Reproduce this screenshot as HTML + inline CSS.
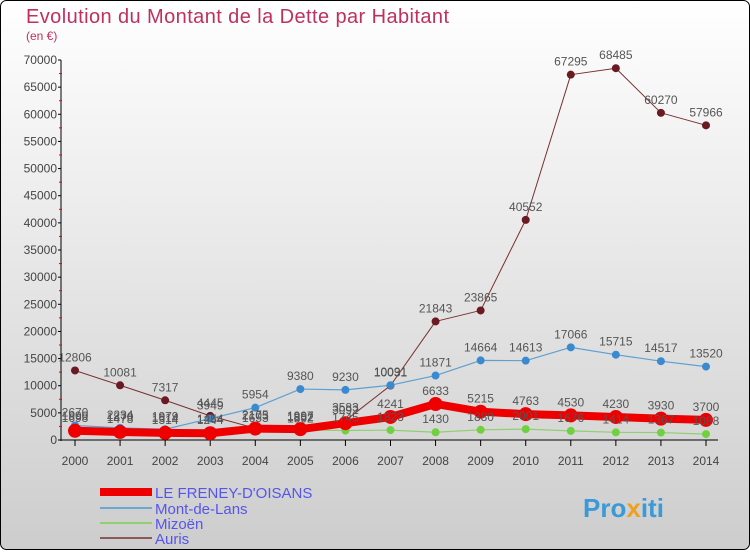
<!DOCTYPE html>
<html><head><meta charset="utf-8"><style>
html,body{margin:0;padding:0}
body{width:750px;height:550px;overflow:hidden;font-family:"Liberation Sans",sans-serif}
</style></head><body>
<svg id="c" width="750" height="550" xmlns="http://www.w3.org/2000/svg">
<defs><linearGradient id="bg" x1="0" y1="0" x2="0" y2="1"><stop offset="0" stop-color="#ffffff"/><stop offset="1" stop-color="#cdcdcd"/></linearGradient></defs>
<rect x="0.5" y="0.5" width="749" height="549" rx="6" fill="url(#bg)" stroke="#000"/>
<text x="26" y="23" font-size="20" fill="#c0305e" textLength="423">Evolution du Montant de la Dette par Habitant</text>
<text x="26" y="40" font-size="12" fill="#c0305e">(en €)</text>
<g id="axes"></g><g id="series"></g><g id="labels"></g>
<g>
<rect x="100" y="488" width="52" height="8" fill="#e00"/>
<text x="155" y="498" font-size="15" fill="#5555ee">LE FRENEY-D'OISANS</text>
<rect x="100" y="507" width="52" height="2" fill="#6aa8d0"/>
<text x="155" y="514" font-size="15" fill="#5555ee">Mont-de-Lans</text>
<rect x="100" y="522" width="52" height="2" fill="#8fd070"/>
<text x="155" y="529" font-size="15" fill="#5555ee">Mizoën</text>
<rect x="100" y="537" width="52" height="2" fill="#8a5a5a"/>
<text x="155" y="544" font-size="15" fill="#5555ee">Auris</text>
</g>
<text x="583" y="517" font-size="26" font-weight="bold" fill="#3a9ad8">Pro<tspan fill="#f0a020">x</tspan>iti</text>
</svg>
<script>
const years=[2000,2001,2002,2003,2004,2005,2006,2007,2008,2009,2010,2011,2012,2013,2014];
const freney=[1698,1478,1314,1244,2103,1997,3092,4241,6633,5215,4763,4530,4230,3930,3700];
const mont=[2670,2234,1979,3949,5954,9380,9230,10091,11871,14664,14613,17066,15715,14517,13520];
const mizoen=[1990,1870,1614,1454,1653,1852,1745,1823,1430,1880,2001,1676,1414,1367,1088];
const auris=[12806,10081,7317,4445,2175,1592,3583,10031,21843,23865,40552,67295,68485,60270,57966];
const yTicks=[0,5000,10000,15000,20000,25000,30000,35000,40000,45000,50000,55000,60000,65000,70000];
const NS="http://www.w3.org/2000/svg";
const X=i=>75+i*(631/14);
const Y=v=>440-v*380/70000;
function mk(t,a,p){const e=document.createElementNS(NS,t);for(const k in a)e.setAttribute(k,a[k]);p.appendChild(e);return e;}
const ax=document.getElementById('axes');
const sg=document.getElementById('series');
const lg=document.getElementById('labels');
let l=mk('line',{x1:61,y1:60,x2:61,y2:441,stroke:'#000'},ax);


l=mk('line',{x1:61,y1:440,x2:718,y2:440,stroke:'#000'},ax);


yTicks.forEach((v,i)=>{
  mk('line',{x1:58,y1:Y(v),x2:61,y2:Y(v),stroke:'#000'},ax);
  if(i<yTicks.length-1)mk('line',{x1:59,y1:Y(v+2500),x2:62,y2:Y(v+2500),stroke:'#e00'},ax);
  const t=mk('text',{x:57,y:Y(v)+4,'font-size':12,'text-anchor':'end',fill:'#444'},ax);
  t.textContent=v;
  
  
});
years.forEach((y,i)=>{
  mk('line',{x1:X(i),y1:440,x2:X(i),y2:446,stroke:'#000'},ax);
  const t=mk('text',{x:X(i),y:465,'font-size':12,'text-anchor':'middle',fill:'#444'},ax);
  t.textContent=y;
  
  
});
function series(data,name,color,w,r,dot){
  const pts=data.map((v,i)=>X(i)+','+Y(v)).join(' ');
  const p=mk('polyline',{points:pts,fill:'none',stroke:color,'stroke-width':w,'stroke-linejoin':'round'},sg);
  
  
  data.forEach((v,i)=>{
    const c=mk('circle',{cx:X(i),cy:Y(v),r:r,fill:dot},sg);
    
    
    const t=mk('text',{x:X(i),y:Y(v)-9,'font-size':12,'text-anchor':'middle',fill:'#555'},lg);
    t.textContent=v;
    
    
  });
}
series(auris,'auris','#7a3030',1,4,'#6a1a20');
series(mont,'mont-de-lans','#5fa0d0',1.2,4,'#3a8ad0');
series(mizoen,'mizoen','#8fd070',1.2,4,'#70d040');
series(freney,'freney','#ee0000',8,7,'#ee0000');
</script>
</body></html>
